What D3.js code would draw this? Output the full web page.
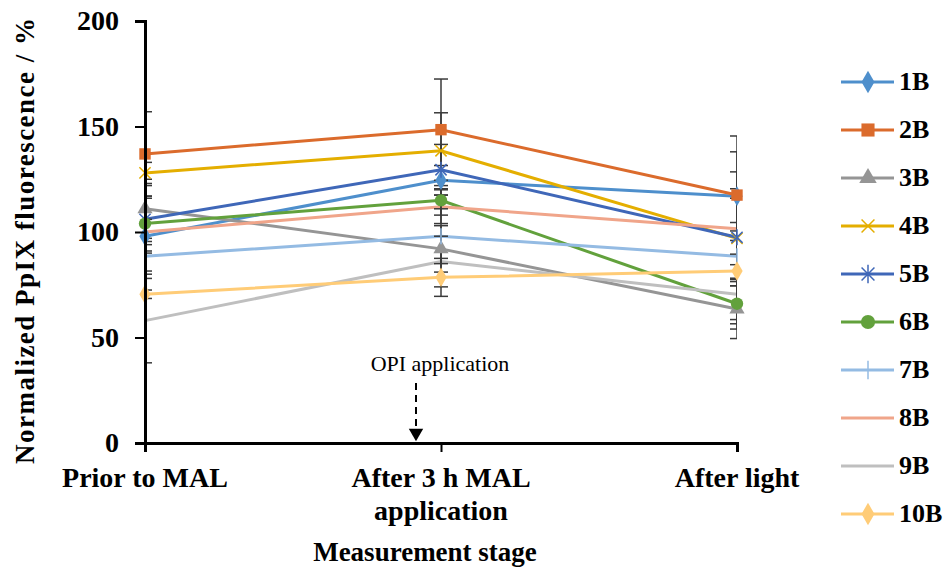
<!DOCTYPE html>
<html>
<head>
<meta charset="utf-8">
<script src="https://cdn.jsdelivr.net/npm/d3@7"></script>
<style>
  body { margin: 0; background: #fff; }
  text { font-family: "Liberation Serif", "Times New Roman", serif; }
</style>
</head>
<body>
<div id="chart"></div>
<script>
// data
var stages = ["Prior to MAL", "After 3 h MAL application", "After light"];
var series = ["1B", "2B", "3B", "4B", "5B", "6B", "7B", "8B", "9B", "10B"];

var priorVals = [98, 137, 111, 128, 106, 104, 88.5, 100, 58, 70.5];
var midVals   = [124.5, 148.5, 92, 138.5, 129.5, 115, 98, 112, 86, 78.5];
var lightVals = [117, 117.5, 63.5, 97, 97.5, 66, 88.5, 101.5, 70.5, 81.5];

var priorErr = [18, 20, 14, 5, 16, 13, 7, 6, 20, 2];
var midErr   = [7, 24, 11, 18, 12, 7, 13, 8, 12, 9];
var lightErr = [21, 28, 14, 19, 23, 12, 12, 27, 14, 23];

var yTicks = [0, 50, 100, 150, 200];

var colors = ["#4e8fcc", "#db6b2c", "#959595", "#e4ae00", "#3f67b8",
              "#62a13c", "#94bbe3", "#f0a58a", "#bfbfbf", "#ffcc77"];
var shapes = ["diamond", "square", "triangle", "x", "asterisk",
              "circle", "plus", "none", "none", "diamond"];

var W = 952, H = 573;
var svg = d3.select("#chart").append("svg")
    .attr("width", W)
    .attr("height", H);

var x = d3.scalePoint().domain(stages).range([145, 737]);
var y = d3.scaleLinear().domain([0, 200]).range([443, 21]);

var table = series.map(function(s, i) {
    return {
        name: s, color: colors[i], shape: shapes[i],
        pts: [
            {stage: stages[0], v: priorVals[i], e: priorErr[i]},
            {stage: stages[1], v: midVals[i], e: midErr[i]},
            {stage: stages[2], v: lightVals[i], e: lightErr[i]}
        ]
    };
});

svg.append("clipPath").attr("id", "plotclip")
  .append("rect")
    .attr("x", x(stages[0])).attr("y", 0)
    .attr("width", x(stages[2]) - x(stages[0])).attr("height", H);

// series lines
var line = d3.line().x(function(d) { return x(d.stage); }).y(function(d) { return y(d.v); });
svg.append("g").selectAll("path")
    .data(table)
    .join("path")
    .attr("d", function(d) { return line(d.pts); })
    .attr("fill", "none")
    .attr("stroke", function(d) { return d.color; })
    .attr("stroke-width", 3);

// error bars
var capW = 7;
var eb = svg.append("g").attr("clip-path", "url(#plotclip)")
    .attr("stroke", "#3a3a3a").attr("stroke-width", 1.5);
table.forEach(function(s) {
    s.pts.forEach(function(p) {
        var cx = x(p.stage), y0 = y(p.v - p.e), y1 = y(p.v + p.e);
        eb.append("line").attr("x1", cx).attr("x2", cx).attr("y1", y0).attr("y2", y1);
        eb.append("line").attr("x1", cx - capW).attr("x2", cx + capW).attr("y1", y0).attr("y2", y0);
        eb.append("line").attr("x1", cx - capW).attr("x2", cx + capW).attr("y1", y1).attr("y2", y1);
    });
});

// marker drawing
function marker(g, shape, color, cx, cy, k) {
    if (shape == "none") return;
    k = k || 1;
    var filled = {diamond: d3.symbolDiamond, square: d3.symbolSquare,
                  triangle: d3.symbolTriangle, circle: d3.symbolCircle};
    var sizes = {diamond: 110, square: 130, triangle: 100, circle: 120};
    if (filled[shape]) {
        g.append("path")
            .attr("d", d3.symbol().type(filled[shape]).size(sizes[shape] * k * k)())
            .attr("transform", "translate(" + cx + "," + cy + ")")
            .attr("fill", color);
        return;
    }
    var r = 8 * k, a = 5.6 * k, p;
    if (shape == "x") p = "M" + (-a) + "," + (-a) + "L" + a + "," + a + "M" + (-a) + "," + a + "L" + a + "," + (-a);
    if (shape == "plus") p = "M0," + (-r) + "L0," + r;
    if (shape == "asterisk") p = "M" + (-a) + "," + (-a) + "L" + a + "," + a + "M" + (-a) + "," + a + "L" + a + "," + (-a) + "M0," + (-r) + "L0," + r;
    g.append("path")
        .attr("d", p)
        .attr("transform", "translate(" + cx + "," + cy + ")")
        .attr("fill", "none")
        .attr("stroke", color)
        .attr("stroke-width", 1.5);
}

var mk = svg.append("g");
table.forEach(function(s) {
    s.pts.forEach(function(p) {
        marker(mk, s.shape, s.color, x(p.stage), y(p.v));
    });
});

// axes
var yAxis = svg.append("g")
    .attr("transform", "translate(" + x(stages[0]) + ",0)")
    .call(d3.axisLeft(y).tickValues(yTicks).tickSize(10).tickPadding(16));
yAxis.select(".domain").attr("stroke", "#000").attr("stroke-width", 3);
yAxis.selectAll(".tick line").attr("stroke", "#000").attr("stroke-width", 2);
yAxis.selectAll(".tick text")
    .style("font-family", "Liberation Serif")
    .style("font-weight", "bold")
    .style("font-size", "28px")
    .attr("fill", "#000");

var xAxis = svg.append("g")
    .attr("transform", "translate(0," + y(0) + ")")
    .call(d3.axisBottom(x).tickSize(9).tickFormat(""));
xAxis.select(".domain").attr("stroke", "#000").attr("stroke-width", 3);
xAxis.selectAll(".tick line").attr("stroke", "#000").attr("stroke-width", 2);

// category labels
var catLines = [["Prior to MAL"], ["After 3 h MAL", "application"], ["After light"]];
stages.forEach(function(st, i) {
    var t = svg.append("text")
        .attr("x", x(st))
        .attr("y", 487)
        .attr("text-anchor", "middle")
        .style("font-weight", "bold")
        .style("font-size", "28px")
        .attr("fill", "#000");
    catLines[i].forEach(function(l, j) {
        t.append("tspan").attr("x", x(st)).attr("dy", j == 0 ? 0 : 33).text(l);
    });
});

svg.append("text")
    .attr("x", 425).attr("y", 561)
    .attr("text-anchor", "middle")
    .style("font-weight", "bold")
    .style("font-size", "27px")
    .text("Measurement stage");

svg.append("text")
    .attr("transform", "translate(34,241) rotate(-90)")
    .attr("text-anchor", "middle")
    .attr("textLength", 446)
    .attr("lengthAdjust", "spacing")
    .style("font-weight", "bold")
    .style("font-size", "27px")
    .text("Normalized PpIX fluorescence / %");

// OPI annotation
svg.append("text")
    .attr("x", 440).attr("y", 371)
    .attr("text-anchor", "middle")
    .style("font-size", "22px")
    .text("OPI application");
svg.append("line")
    .attr("x1", 416).attr("x2", 416)
    .attr("y1", 383).attr("y2", 426)
    .attr("stroke", "#000").attr("stroke-width", 2)
    .attr("stroke-dasharray", "7,5");
svg.append("path")
    .attr("d", d3.symbol().type(d3.symbolTriangle).size(90)())
    .attr("transform", "translate(416,433) rotate(180)")
    .attr("fill", "#000");

// legend
var leg = svg.append("g");
table.forEach(function(s, i) {
    var ly = 82 + i * 48;
    leg.append("line")
        .attr("x1", 841).attr("x2", 894)
        .attr("y1", ly).attr("y2", ly)
        .attr("stroke", s.color).attr("stroke-width", 3);
    marker(leg, s.shape, s.color, 868, ly, 1.15);
    leg.append("text")
        .attr("x", 899).attr("y", ly + 8)
        .style("font-weight", "bold")
        .style("font-size", "26px")
        .text(s.name);
});
</script>
</body>
</html>
